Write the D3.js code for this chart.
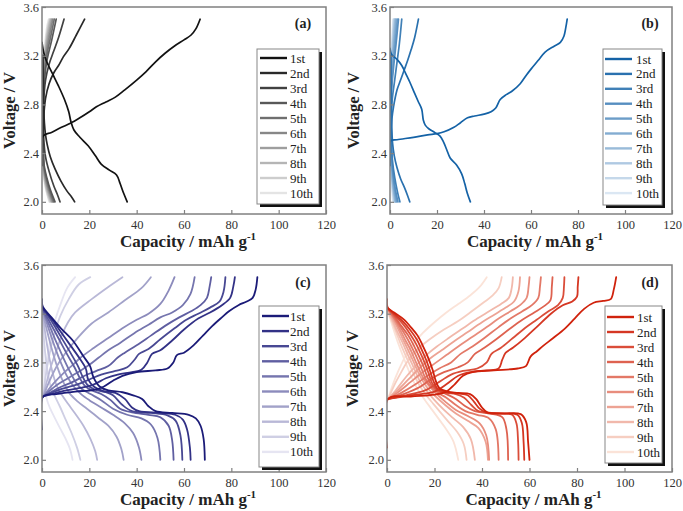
<!DOCTYPE html>
<html><head><meta charset="utf-8">
<script src="https://cdn.jsdelivr.net/npm/d3@7"></script>
<style>body{margin:0;background:#fff}svg{display:block}text{font-family:"Liberation Serif","Times New Roman",serif}</style>
</head><body><svg id="chart" width="683" height="511"></svg>
<script>
const cycles = ["1st","2nd","3rd","4th","5th","6th","7th","8th","9th","10th"];
const xTicks = [0,20,40,60,80,100,120];
const yTicks = [2.0,2.4,2.8,3.2,3.6];

// ---- panel (a)
const aCharge = [
 [[0,2.3],[0.5,2.54],[4,2.57],[8,2.61],[12,2.645],[16,2.69],[20,2.74],[23,2.78],[27,2.82],[31,2.86],[35,2.92],[40,3.0],[44,3.07],[48,3.15],[52,3.22],[56,3.28],[60,3.33],[63,3.37],[65,3.42],[66.8,3.5]],
 [[0,2.3],[0.3,2.55],[0.8,2.72],[1.5,2.85],[3,2.97],[5,3.06],[7,3.12],[9,3.19],[11.5,3.26],[14.5,3.37],[18,3.5]],
 [[0,2.3],[0.3,2.6],[0.6,2.8],[1.5,3.0],[3,3.13],[5,3.24],[7,3.35],[9.3,3.5]],
 [[0,2.3],[0.3,2.7],[0.8,2.95],[2,3.15],[4,3.32],[6,3.5]],
 [[0,2.3],[0.3,2.75],[0.8,3.0],[2,3.2],[3.6,3.35],[5.2,3.5]],
 [[0,2.3],[0.3,2.8],[0.8,3.05],[1.8,3.22],[3.2,3.37],[4.6,3.5]],
 [[0,2.3],[0.3,2.85],[0.8,3.08],[1.7,3.25],[3,3.4],[4.1,3.5]],
 [[0,2.3],[0.3,2.9],[0.8,3.12],[1.6,3.28],[2.7,3.42],[3.6,3.5]],
 [[0,2.3],[0.3,2.95],[0.8,3.15],[1.5,3.3],[2.5,3.44],[3.2,3.5]],
 [[0,2.3],[0.3,3.0],[0.8,3.2],[1.4,3.33],[2.2,3.45],[2.8,3.5]]
];
const aDischarge = [
 [[0,3.31],[0.8,3.22],[2,3.15],[4.5,3.05],[7,2.95],[9.5,2.84],[11.3,2.74],[12.2,2.66],[13.5,2.59],[16,2.53],[19.5,2.46],[22.5,2.38],[25,2.31],[28.5,2.26],[31.5,2.22],[33,2.15],[34.5,2.07],[36,2.0]],
 [[0.3,3.2],[0.6,2.9],[1.0,2.65],[1.5,2.55],[2.2,2.47],[3.5,2.37],[5.5,2.27],[8,2.17],[10.5,2.09],[12.5,2.04],[13.8,2.0]],
 [[0.3,3.2],[0.5,2.8],[0.8,2.5],[1.5,2.37],[3,2.25],[5,2.13],[6.5,2.06],[7.6,2.0]],
 [[0.3,3.2],[0.4,2.8],[0.5,2.45],[0.9,2.3],[2,2.2],[3.5,2.1],[5.5,2.0]],
 [[0.3,3.2],[0.4,2.75],[0.5,2.42],[0.9,2.28],[2,2.18],[3.3,2.09],[5.0,2.0]],
 [[0.3,3.2],[0.4,2.7],[0.5,2.4],[0.9,2.26],[1.9,2.16],[3.1,2.08],[4.6,2.0]],
 [[0.3,3.2],[0.4,2.65],[0.5,2.38],[0.8,2.25],[1.8,2.15],[2.9,2.07],[4.2,2.0]],
 [[0.3,3.2],[0.4,2.6],[0.5,2.36],[0.8,2.23],[1.7,2.13],[2.7,2.06],[3.8,2.0]],
 [[0.3,3.2],[0.4,2.55],[0.5,2.34],[0.8,2.21],[1.6,2.12],[2.5,2.05],[3.4,2.0]],
 [[0.3,3.2],[0.4,2.5],[0.5,2.32],[0.8,2.2],[1.5,2.11],[2.3,2.05],[3.0,2.0]]
];

// ---- panel (b)
const bCharge = [
 [[0,2.3],[0.3,2.5],[3,2.51],[10,2.53],[16,2.55],[20,2.56],[23,2.575],[27,2.61],[30,2.65],[33,2.69],[36,2.705],[40,2.72],[43,2.74],[45,2.77],[46.9,2.84],[49.5,2.88],[52,2.91],[55.4,2.97],[58,3.04],[60,3.09],[63,3.16],[66,3.23],[70,3.28],[72.5,3.31],[74,3.36],[74.8,3.43],[75.4,3.5]],
 [[0,2.3],[0.3,2.55],[0.8,2.68],[1.5,2.78],[3,2.92],[4.5,3.0],[6,3.08],[7.5,3.16],[9,3.25],[10.5,3.35],[12.1,3.5]],
 [[0,2.3],[0.3,2.65],[1,2.85],[2,3.0],[3,3.15],[4,3.3],[5,3.5]],
 [[0,2.3],[0.3,2.75],[0.8,2.95],[1.6,3.12],[2.6,3.3],[3.6,3.5]],
 [[0,2.3],[0.3,2.8],[0.8,3.0],[1.5,3.17],[2.3,3.33],[3.1,3.5]],
 [[0,2.3],[0.3,2.85],[0.7,3.03],[1.3,3.2],[2,3.36],[2.6,3.5]],
 [[0,2.3],[0.3,2.9],[0.7,3.08],[1.2,3.24],[1.7,3.38],[2.2,3.5]],
 [[0,2.3],[0.3,2.95],[0.6,3.1],[1,3.26],[1.5,3.4],[1.9,3.5]],
 [[0,2.3],[0.3,3.0],[0.6,3.15],[0.9,3.28],[1.3,3.42],[1.6,3.5]],
 [[0,2.3],[0.3,3.05],[0.5,3.18],[0.8,3.3],[1.1,3.43],[1.3,3.5]]
];
const bDischarge = [
 [[0,3.26],[0.7,3.21],[3,3.17],[5,3.12],[7,3.04],[8.5,2.98],[10.5,2.89],[12.1,2.82],[13.5,2.76],[14.2,2.67],[15,2.63],[16.5,2.6],[19,2.57],[21.3,2.54],[22.8,2.49],[24.1,2.43],[25.6,2.36],[28.4,2.3],[30.5,2.23],[31.8,2.15],[32.9,2.07],[34.2,2.0]],
 [[0.3,3.2],[0.5,2.9],[0.8,2.6],[1.1,2.48],[1.8,2.38],[3,2.28],[4.5,2.19],[6.3,2.11],[7.5,2.05],[8.4,2.0]],
 [[0.3,3.2],[0.4,2.8],[0.6,2.5],[1,2.35],[2,2.2],[3.2,2.08],[4.2,2.0]],
 [[0.3,3.2],[0.4,2.7],[0.6,2.4],[1.2,2.25],[2.3,2.1],[3.4,2.0]],
 [[0.3,3.2],[0.4,2.7],[0.6,2.4],[1.1,2.25],[2,2.1],[2.9,2.0]],
 [[0.3,3.2],[0.4,2.6],[0.6,2.35],[1,2.2],[1.8,2.08],[2.5,2.0]],
 [[0.3,3.2],[0.4,2.6],[0.6,2.35],[0.9,2.2],[1.6,2.08],[2.2,2.0]],
 [[0.3,3.2],[0.4,2.5],[0.6,2.3],[0.9,2.17],[1.4,2.07],[1.9,2.0]],
 [[0.3,3.2],[0.4,2.5],[0.6,2.3],[0.8,2.17],[1.2,2.07],[1.6,2.0]],
 [[0.3,3.2],[0.4,2.45],[0.5,2.28],[0.7,2.15],[1,2.06],[1.3,2.0]]
];

// ---- panel (c)
const cCharge = [
 [[0,2.25],[0.5,2.52],[6,2.54],[14,2.56],[22,2.575],[26,2.6],[30,2.65],[34,2.69],[40,2.72],[48,2.735],[53,2.75],[55.5,2.8],[57,2.86],[60,2.88],[64,2.94],[68,3.02],[72,3.1],[76,3.17],[79,3.22],[83,3.27],[86.5,3.3],[89,3.33],[90.3,3.4],[91,3.5]],
 [[0.5,2.52],[8,2.56],[16,2.59],[22,2.62],[27,2.67],[32,2.7],[38,2.72],[42,2.74],[44.5,2.8],[46.5,2.87],[50,2.9],[55,2.98],[60,3.07],[66,3.16],[71,3.21],[76,3.27],[79.5,3.33],[80.8,3.42],[81.5,3.5]],
 [[0.5,2.52],[8,2.58],[15,2.62],[20,2.66],[25,2.7],[31,2.73],[36,2.76],[39,2.82],[41,2.87],[45,2.91],[50,2.99],[56,3.08],[61,3.15],[66,3.2],[71,3.25],[75,3.3],[76.7,3.38],[77.5,3.5]],
 [[0.5,2.52],[7,2.59],[13,2.64],[18,2.69],[23,2.73],[28,2.77],[32,2.84],[35,2.88],[40,2.94],[46,3.02],[52,3.1],[58,3.17],[63,3.22],[67,3.27],[69.7,3.33],[70.8,3.42],[71.5,3.5]],
 [[0.5,2.52],[6,2.61],[11,2.67],[16,2.73],[20,2.78],[24,2.84],[28,2.9],[33,2.96],[39,3.04],[45,3.11],[50,3.17],[55,3.21],[59.5,3.27],[62.7,3.36],[64.5,3.5]],
 [[0.5,2.52],[5,2.63],[9,2.71],[13,2.78],[17,2.85],[22,2.92],[28,3.0],[34,3.08],[40,3.15],[45,3.2],[50,3.28],[53.5,3.39],[56,3.5]],
 [[0.5,2.52],[3,2.64],[6,2.76],[10,2.88],[15,3.0],[21,3.12],[28,3.21],[35,3.31],[42,3.41],[46,3.5]],
 [[0.5,2.52],[2,2.64],[4,2.78],[6.5,2.92],[8.5,3.03],[11,3.13],[14,3.21],[21,3.32],[28,3.42],[34,3.5]],
 [[0.5,2.52],[1.5,2.68],[3,2.85],[5,3.02],[7.7,3.18],[11.3,3.32],[15.5,3.44],[20.4,3.5]],
 [[0.5,2.52],[1.3,2.7],[2.5,2.88],[4,3.03],[5.6,3.15],[7.7,3.27],[10.6,3.41],[14,3.5]]
];
const cDischarge = [
 [[0,3.32],[0.3,3.26],[4,3.17],[8,3.08],[13,2.98],[17.5,2.85],[20.3,2.77],[21.7,2.68],[24.5,2.6],[28,2.57],[34,2.555],[38.5,2.53],[42.3,2.5],[45,2.44],[48,2.4],[55,2.385],[62,2.37],[65,2.34],[67,2.28],[68.3,2.17],[68.8,2.0]],
 [[0,3.25],[4,3.16],[8,3.05],[12,2.94],[16,2.83],[18.5,2.75],[19.5,2.66],[22,2.6],[26,2.565],[31,2.55],[35,2.5],[38,2.43],[41,2.4],[50,2.385],[56.3,2.37],[59.5,2.33],[61.3,2.25],[62.5,2.1],[62.8,2.0]],
 [[0,3.25],[4,3.14],[8,3.01],[12,2.88],[15.2,2.77],[17,2.69],[19,2.62],[22,2.58],[27,2.555],[30,2.53],[34,2.45],[38,2.4],[46,2.385],[53,2.365],[56.5,2.32],[58.5,2.2],[59.3,2.0]],
 [[0,3.24],[3.6,3.12],[7.2,2.99],[10.8,2.86],[14,2.75],[16,2.67],[18,2.61],[21,2.57],[25,2.54],[29,2.49],[33,2.42],[38,2.39],[45,2.37],[50,2.35],[53.5,2.28],[55,2.16],[55.6,2.0]],
 [[0,3.24],[3.2,3.1],[6.2,2.96],[9.2,2.83],[12.2,2.71],[14.5,2.63],[17,2.58],[20.5,2.54],[25,2.49],[30,2.42],[36,2.37],[42,2.34],[46,2.29],[48.8,2.18],[50,2.0]],
 [[0,3.24],[2.6,3.09],[5,2.95],[7.5,2.82],[10.5,2.69],[13.5,2.6],[16.5,2.54],[20,2.49],[25,2.43],[30,2.37],[35,2.3],[38.5,2.22],[41,2.1],[42,2.0]],
 [[0,3.23],[2,3.07],[4,2.92],[6,2.79],[8.5,2.66],[11.5,2.55],[15,2.48],[19,2.42],[23.5,2.35],[28,2.28],[31.5,2.19],[33.5,2.09],[34.5,2.0]],
 [[0,3.23],[1.3,3.05],[2.7,2.88],[4.3,2.73],[6.2,2.61],[8.5,2.53],[11,2.46],[14,2.38],[17.5,2.28],[20.5,2.17],[22.5,2.07],[23.3,2.0]],
 [[0,3.22],[0.7,3.02],[1.5,2.85],[2.6,2.7],[4,2.58],[5.5,2.52],[7.5,2.44],[10,2.33],[12.5,2.22],[14.8,2.1],[16.2,2.0]],
 [[0,3.22],[0.3,3.0],[0.7,2.8],[1.2,2.62],[2,2.5],[3.5,2.42],[5.5,2.34],[7.6,2.26],[9.8,2.18],[11.8,2.09],[12.9,2.0]]
];

// ---- panel (d)
const dCharge = [
 [[0,2.1],[0.5,2.5],[10,2.52],[20,2.535],[25,2.56],[28.5,2.62],[32,2.69],[36,2.72],[45,2.735],[55,2.75],[58.5,2.77],[60.5,2.85],[63,2.89],[66,2.94],[70,3.0],[75,3.08],[79,3.16],[83,3.24],[87,3.29],[91,3.305],[94.2,3.32],[95.5,3.4],[96.5,3.5]],
 [[0.5,2.5],[10,2.53],[20,2.56],[25,2.62],[30,2.69],[35,2.72],[42,2.735],[47,2.75],[48.5,2.82],[50,2.88],[53,2.92],[58,3.0],[63,3.09],[69,3.2],[74,3.27],[78,3.3],[80,3.34],[80.3,3.42],[80.6,3.5]],
 [[0.5,2.5],[8,2.53],[16,2.57],[22,2.64],[27,2.7],[32,2.73],[38,2.75],[42,2.8],[44,2.87],[48,2.92],[53,3.0],[58,3.08],[63,3.15],[68,3.22],[72,3.27],[74,3.33],[74.5,3.42],[74.7,3.5]],
 [[0.5,2.5],[7,2.54],[14,2.6],[19,2.67],[24,2.72],[30,2.76],[34,2.8],[37,2.87],[41,2.92],[46,2.99],[52,3.08],[57,3.15],[62,3.21],[66,3.26],[68.8,3.31],[69.4,3.42],[69.7,3.5]],
 [[0.5,2.5],[6,2.55],[12,2.62],[17,2.69],[22,2.75],[27,2.8],[31,2.87],[36,2.93],[41,3.0],[47,3.09],[52,3.16],[57,3.22],[61,3.27],[63.7,3.33],[64.4,3.42],[64.8,3.5]],
 [[0.5,2.5],[5,2.56],[10,2.64],[15,2.72],[20,2.79],[25,2.86],[30,2.93],[36,3.01],[42,3.09],[47,3.16],[52,3.22],[56,3.27],[58.8,3.33],[59.6,3.42],[60,3.5]],
 [[0.5,2.5],[4.5,2.57],[9,2.66],[13.5,2.75],[18,2.83],[23,2.9],[28,2.97],[34,3.05],[40,3.13],[45,3.19],[50,3.25],[53.5,3.3],[55.3,3.38],[56,3.5]],
 [[0.5,2.5],[4,2.58],[8,2.68],[12,2.77],[16,2.85],[21,2.93],[26,3.0],[32,3.08],[38,3.16],[43,3.22],[48,3.28],[51.3,3.33],[52.5,3.41],[53,3.5]],
 [[0.5,2.5],[3,2.61],[6,2.72],[9,2.82],[13,2.91],[18,2.99],[24,3.07],[30,3.14],[35,3.21],[40.5,3.29],[44.5,3.35],[47,3.41],[48.3,3.5]],
 [[0.5,2.5],[2.5,2.62],[5,2.74],[8,2.86],[11,2.95],[15,3.04],[20,3.13],[25,3.21],[30,3.28],[35,3.35],[39,3.42],[42,3.5]]
];
const dDischarge = [
 [[0,3.32],[0.3,3.25],[3,3.21],[7.3,3.15],[10,3.09],[12.9,3.02],[15,2.94],[17.1,2.85],[19.2,2.74],[20.5,2.65],[22,2.59],[25.5,2.56],[30,2.55],[35,2.54],[37.5,2.5],[40,2.43],[42.2,2.39],[48,2.38],[56.3,2.375],[58.6,2.31],[59.4,2.15],[60,2.0]],
 [[0,3.25],[3,3.2],[7,3.13],[10,3.06],[12.5,2.99],[14.5,2.91],[16.5,2.82],[18.3,2.72],[19.7,2.64],[21.5,2.58],[25,2.555],[30,2.545],[34,2.53],[36.5,2.48],[39,2.42],[41.5,2.39],[48,2.38],[54.9,2.37],[56.8,2.3],[57.5,2.15],[57.8,2.0]],
 [[0,3.25],[3,3.19],[6.5,3.12],[9.5,3.04],[12,2.96],[14,2.88],[16,2.79],[17.7,2.7],[19,2.63],[21,2.58],[25,2.55],[29,2.54],[32.5,2.51],[35.5,2.45],[38.5,2.4],[45,2.385],[52.7,2.37],[54.5,2.3],[55.2,2.15],[55.4,2.0]],
 [[0,3.25],[3,3.18],[6,3.1],[9,3.02],[11.5,2.93],[13.5,2.85],[15.5,2.76],[17,2.68],[18.5,2.62],[21,2.57],[25,2.54],[29,2.5],[33,2.44],[37,2.4],[43,2.38],[48.5,2.35],[50.3,2.25],[51,2.0]],
 [[0,3.25],[2.8,3.17],[5.6,3.09],[8.4,3.0],[10.8,2.91],[12.8,2.83],[14.7,2.74],[16.4,2.66],[18.5,2.6],[21.5,2.55],[25,2.51],[29,2.45],[33,2.4],[38,2.37],[43,2.34],[45.8,2.25],[47,2.0]],
 [[0,3.25],[2.6,3.17],[5.2,3.08],[7.8,2.98],[10,2.9],[12,2.81],[13.8,2.73],[15.6,2.66],[18,2.6],[21,2.54],[25,2.47],[29,2.41],[34,2.36],[39,2.3],[41.8,2.2],[43,2.0]],
 [[0,3.25],[2.4,3.16],[4.8,3.07],[7.2,2.97],[9.4,2.88],[11.3,2.8],[13.1,2.72],[15,2.65],[17.5,2.58],[20.5,2.52],[24.5,2.45],[29,2.38],[34,2.32],[38.5,2.26],[41.5,2.15],[42.5,2.0]],
 [[0,3.24],[2.2,3.15],[4.4,3.05],[6.6,2.96],[8.6,2.87],[10.5,2.79],[12.3,2.71],[14.3,2.63],[17,2.56],[20,2.49],[24,2.41],[28,2.34],[32,2.27],[35.3,2.17],[37,2.0]],
 [[0,3.24],[2,3.14],[4,3.04],[6,2.94],[8,2.85],[9.8,2.77],[11.6,2.69],[13.7,2.61],[16.5,2.53],[19.5,2.46],[22.5,2.39],[26,2.31],[29.5,2.23],[32.3,2.13],[33.5,2.0]],
 [[0,3.24],[1.8,3.13],[3.6,3.02],[5.4,2.92],[7.2,2.83],[9,2.74],[11,2.65],[13.2,2.57],[16,2.49],[19,2.41],[22,2.33],[25,2.25],[28,2.15],[30,2.0]]
];

const panels = [
 {label:"(a)", charge:aCharge, discharge:aDischarge, dark:"#121212", light:"#e4e4e4", sw:1.7,
  l:42, r:326, t:7, b:214, lg:{x:257,y:49,w:62,h:155,row:58,step:15,lx:260,tx:290}, lab:{x:303,y:28}, yt:15},
 {label:"(b)", charge:bCharge, discharge:bDischarge, dark:"#1462a6", light:"#dbe7f3", sw:1.7,
  l:390, r:672, t:7, b:214, lg:{x:603,y:49,w:59,h:156,row:59,step:14.9,lx:605,tx:636}, lab:{x:650,y:28}, yt:359},
 {label:"(c)", charge:cCharge, discharge:cDischarge, dark:"#1b1b78", light:"#e6e5f2", sw:1.8,
  l:42, r:326, t:265, b:472, lg:{x:259,y:306,w:60,h:161,row:316,step:15.1,lx:262,tx:290}, lab:{x:303,y:287}, yt:15},
 {label:"(d)", charge:dCharge, discharge:dDischarge, dark:"#d0220c", light:"#fbe3d8", sw:1.8,
  l:387, r:672, t:265, b:472, lg:{x:605,y:306,w:57,h:157,row:317,step:15,lx:607,tx:637}, lab:{x:650,y:287}, yt:358}
];

const svg = d3.select("#chart");
const frameCol = "#808080";

panels.forEach((p, pi) => {
  const x = d3.scaleLinear().domain([0,120]).range([p.l, p.r]);
  const y = d3.scaleLinear().domain([1.9,3.6]).range([p.b, p.t]);
  const col = i => d3.interpolateRgb(p.dark, p.light)(i/9);
  const g = svg.append("g");
  const clipId = "clip"+pi;
  g.append("clipPath").attr("id", clipId).append("rect")
    .attr("x", p.l).attr("y", p.t-2).attr("width", p.r-p.l).attr("height", p.b-p.t+2);

  const line = d3.line().x(d=>x(d[0])).y(d=>y(d[1])).curve(d3.curveCatmullRom.alpha(0.5));
  const lines = g.append("g").attr("clip-path", `url(#${clipId})`);
  for (let i = 9; i >= 0; i--) {
    [p.discharge[i], p.charge[i]].forEach(curve => {
      lines.append("path").attr("d", line(curve)).attr("fill","none")
        .attr("stroke", col(i)).attr("stroke-width", p.sw).attr("stroke-linejoin","round").attr("stroke-linecap","round");
    });
  }

  // axes (inward ticks)
  const xa = d3.axisBottom(x).tickValues(xTicks).tickSize(-4).tickPadding(7).tickFormat(d3.format("d"));
  const ya = d3.axisLeft(y).tickValues(yTicks).tickSize(-4).tickPadding(3).tickFormat(d3.format(".1f"));
  const gx = g.append("g").attr("transform", `translate(0,${p.b})`).call(xa);
  const gy = g.append("g").attr("transform", `translate(${p.l},0)`).call(ya);
  [gx, gy].forEach(a => {
    a.attr("font-family", null);
    a.select(".domain").remove();
    a.selectAll(".tick line").attr("stroke", frameCol).attr("stroke-width", 1.2);
    a.selectAll(".tick text").attr("fill", "#333").style("font-size", "12.5px").style("font-family", '"Liberation Serif",serif');
  });
  gx.selectAll(".tick text").attr("dy", null).attr("y", 15);

  g.append("rect").attr("x", p.l).attr("y", p.t).attr("width", p.r-p.l).attr("height", p.b-p.t)
    .attr("fill","none").attr("stroke", frameCol).attr("stroke-width", 1.5);

  // titles
  const xt = g.append("text").attr("x", (p.l+p.r)/2 + 4).attr("y", p.b + 32.5)
    .attr("text-anchor","middle").attr("font-weight","bold").style("font-size","17px").attr("fill","#222")
    .text("Capacity / mAh g");
  xt.append("tspan").attr("dy", -7).style("font-size","11px").text("-1");
  g.append("text").attr("transform", `translate(${p.yt},${(p.t+p.b)/2}) rotate(-90)`)
    .attr("text-anchor","middle").attr("font-weight","bold").style("font-size","16.5px").attr("fill","#222")
    .text("Voltage / V");

  // panel label
  g.append("text").attr("x", p.lab.x).attr("y", p.lab.y).attr("text-anchor","middle")
    .attr("font-weight","bold").style("font-size","14px").attr("fill","#222").text(p.label);

  // legend
  const lg = p.lg;
  g.append("rect").attr("x", lg.x+3).attr("y", lg.y+3).attr("width", lg.w).attr("height", lg.h).attr("fill", "#111");
  g.append("rect").attr("x", lg.x).attr("y", lg.y).attr("width", lg.w).attr("height", lg.h)
    .attr("fill", "#fff").attr("stroke", "#888").attr("stroke-width", 1);
  cycles.forEach((c, i) => {
    const yy = lg.row + i*lg.step;
    g.append("line").attr("x1", lg.lx).attr("x2", lg.lx+27).attr("y1", yy).attr("y2", yy)
      .attr("stroke", col(i)).attr("stroke-width", 2.4);
    g.append("text").attr("x", lg.tx).attr("y", yy).attr("dy", "0.35em")
      .style("font-size","13px").attr("fill","#222").text(c);
  });
});
</script></body></html>
